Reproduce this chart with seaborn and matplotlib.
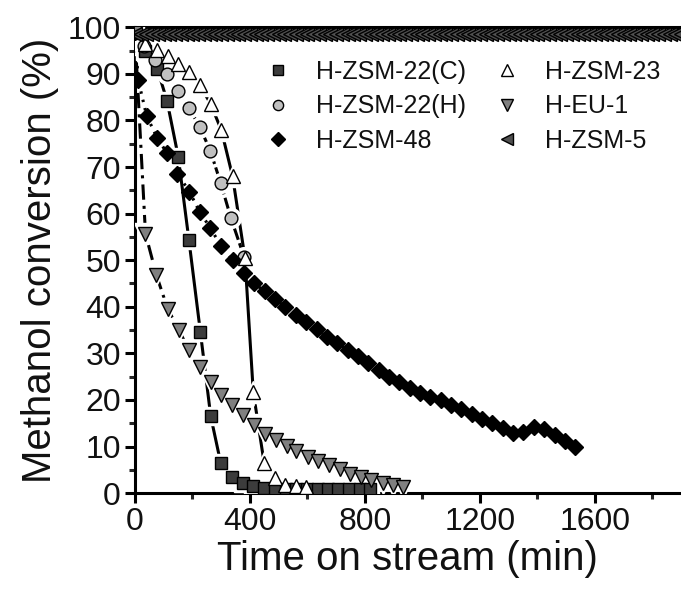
import matplotlib
matplotlib.use("Agg")
import matplotlib.pyplot as plt
from matplotlib.lines import Line2D
from matplotlib.ticker import MultipleLocator
import seaborn as sns

# H-ZSM-22(C)
c_time = [0, 37, 78, 112, 151, 188, 228, 264, 299, 338, 377, 411, 450, 488, 525,
          562, 600, 637, 672, 708, 745, 782, 818]
c_conv = [99, 94.9, 91.1, 84.2, 72.2, 54.4, 34.6, 16.5, 6.4, 3.4, 2.1, 1.5, 1.0, 0.9, 0.9,
          0.9, 0.8, 0.8, 0.8, 0.8, 0.8, 0.8, 0.8]

# H-ZSM-22(H)
h_time = [0, 33, 70, 112, 151, 189, 226, 263, 299, 334, 380]
h_conv = [99, 96, 92.9, 89.9, 86.3, 82.6, 78.6, 73.4, 66.5, 59.1, 50.7]

# H-ZSM-48
z48_time = [0, 12, 41, 78, 112, 148, 190, 226, 262, 300, 340, 380,
            416, 452, 488, 524, 560, 596, 632, 668, 704, 740, 776, 812, 848, 884,
            920, 956, 992, 1028, 1064, 1100, 1136, 1172, 1208, 1244, 1280, 1316,
            1352, 1388, 1424, 1460, 1496, 1532]
z48_conv = [99, 88.6, 81, 76.2, 73, 68.6, 64.7, 60.3, 57, 53, 50, 47.3,
            45, 43.3, 41.6, 40, 38.3, 36.7, 35.2, 33.6, 32.2, 30.8, 29.5, 28, 26.5, 25,
            23.8, 22.5, 21.5, 20.7, 20, 19, 18, 17, 16, 15, 14, 13,
            13.2, 14.3, 13.7, 12.5, 11.2, 10]

# H-ZSM-23
z23_time = [0, 37, 76, 114, 151, 189, 226, 264, 301, 340, 383, 412, 450, 487, 522, 559, 597]
z23_conv = [99, 96.5, 95.2, 93.9, 92.1, 90.4, 87.6, 83.5, 77.9, 68, 50.5, 21.7, 6.4, 3.2,
            1.7, 1.5, 1.4]

# H-EU-1
eu_time = [0, 37, 75, 114, 153, 188, 226, 264, 301, 338, 377, 414, 452, 490, 528,
           562, 601, 638, 676, 713, 748, 786, 823, 864, 898, 933]
eu_conv = [99, 55.7, 46.8, 39.6, 35, 30.7, 27.1, 23.9, 21, 18.9, 16.7, 14.6, 12.7, 11.4, 10.1,
           9.1, 7.8, 6.9, 6, 5.1, 4.2, 3.5, 2.8, 2.2, 1.7, 1.4]

# H-ZSM-5
z5_time = [0, 20, 40, 60, 80, 100, 120, 140, 160, 180, 200, 220, 240, 260, 280, 300,
           320, 340, 360, 380, 400, 420, 440, 460, 480, 500, 520, 540, 560, 580, 600,
           620, 640, 660, 680, 700, 720, 740, 760, 780, 800, 820, 840, 860, 880, 900,
           920, 940, 960, 980, 1000, 1020, 1040, 1060, 1080, 1100, 1120, 1140, 1160,
           1180, 1200, 1220, 1240, 1260, 1280, 1300, 1320, 1340, 1360, 1380, 1400,
           1420, 1440, 1460, 1480, 1500, 1520, 1540, 1560, 1580, 1600, 1620, 1640,
           1660, 1680, 1700, 1720, 1740, 1760, 1780, 1800, 1820, 1840, 1860, 1880, 1900]
z5_conv = [98.6] * len(z5_time)

series = [
    ("H-ZSM-22(C)", c_time, c_conv, "s", 8.4, "#3c3c3c", "-"),
    ("H-ZSM-22(H)", h_time, h_conv, "o", 9.2, "#c0c0c0", (0, (4, 1.2))),
    ("H-ZSM-48", z48_time, z48_conv, "D", 8.6, "#000000", (0, (0.8, 2))),
    ("H-ZSM-23", z23_time, z23_conv, "^", 10.5, "#ffffff", "-"),
    ("H-EU-1", eu_time, eu_conv, "v", 10.5, "#808080", (0, (5, 2, 1, 2))),
    ("H-ZSM-5", z5_time, z5_conv, "<", 10, "#505050", None),
]

sns.set_style("ticks")
plt.rcParams["font.family"] = ["Liberation Sans", "DejaVu Sans"]
plt.rcParams["text.color"] = "#111111"
plt.rcParams["axes.labelcolor"] = "#111111"

fig = plt.figure(figsize=(6.81, 5.92), dpi=100)
ax = fig.add_axes([0.198, 0.167, 0.802, 0.787])

for name, t, v, mk, ms, fc, ls in series:
    if ls is not None:
        sns.lineplot(x=t, y=v, ax=ax, color="black", linewidth=2.2, linestyle=ls,
                     sort=False, estimator=None, zorder=2)
    # white gap around symbols
    if mk != "D" and ls is not None:
        ax.plot(t, v, linestyle="none", marker=mk, markersize=ms + 5,
                markerfacecolor="white", markeredgecolor="white", zorder=3)

for name, t, v, mk, ms, fc, ls in series:
    ax.plot(t, v, linestyle="none", marker=mk, markersize=ms,
            markerfacecolor=fc, markeredgecolor="black", markeredgewidth=1.0,
            zorder=4)

ax.set_xlim(0, 1900)
ax.set_ylim(0, 100)
ax.xaxis.set_major_locator(MultipleLocator(400))
ax.xaxis.set_minor_locator(MultipleLocator(200))
ax.yaxis.set_major_locator(MultipleLocator(10))
ax.yaxis.set_minor_locator(MultipleLocator(5))

for side in ["left", "bottom", "top"]:
    ax.spines[side].set_linewidth(2.2)
    ax.spines[side].set_color("black")
ax.spines["right"].set_visible(False)

ax.tick_params(which="major", direction="out", length=7, width=2.2, labelsize=23,
               colors="black", labelcolor="#111111", pad=3)
ax.tick_params(which="minor", direction="out", length=4, width=2.2)
ax.tick_params(top=False, right=False, which="both")

ax.set_xlabel("Time on stream (min)", fontsize=29, labelpad=2)
ax.set_ylabel("Methanol conversion (%)", fontsize=29, labelpad=6)

handles = []
for name, t, v, mk, ms, fc, ls in series:
    handles.append(Line2D([], [], linestyle="none", marker=mk, markersize=ms * 0.8,
                          markerfacecolor=fc, markeredgecolor="black",
                          markeredgewidth=1.0, label=name))
ax.legend(handles=handles, ncol=2, frameon=False, fontsize=18,
          loc="upper left", bbox_to_anchor=(0.380, 0.899),
          bbox_transform=fig.transFigure, borderpad=0, borderaxespad=0,
          handlelength=1.5, handletextpad=0.77, columnspacing=0.9,
          labelspacing=0.42)

fig.savefig("out.png", dpi=100)
